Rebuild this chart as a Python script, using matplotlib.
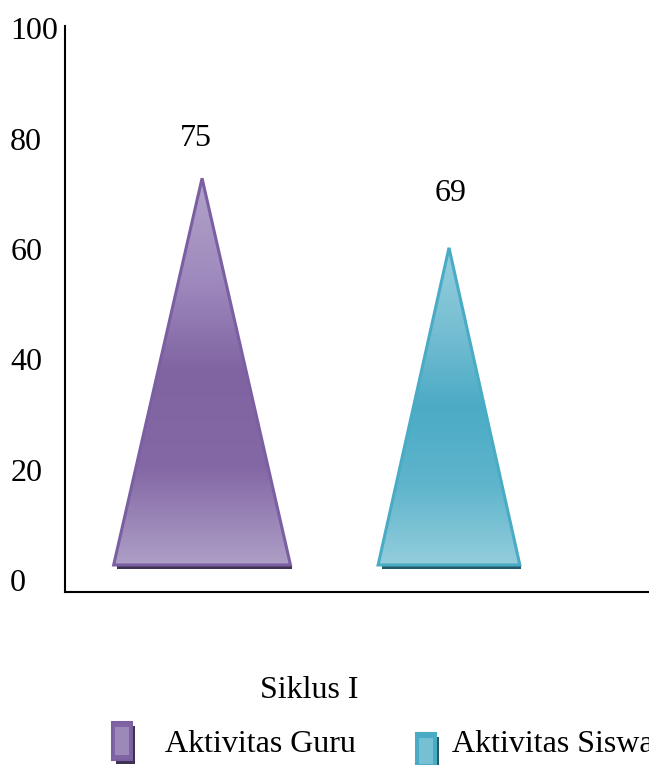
import matplotlib.pyplot as plt
import numpy as np
from matplotlib.patches import Polygon, Rectangle
from matplotlib.colors import LinearSegmentedColormap

plt.rc('font', family='Liberation Serif', size=23)

# data
categories = ['Aktivitas Guru', 'Aktivitas Siswa']
values = [75, 69]              # printed labels
drawn_height = [72.8, 60.2]    # apex height as drawn (perspective cone)
group = 'Siklus I'

# style
half_w = [0.358, 0.287]
base = 2.7
lbl_off = [40, 54]
edge = ['#7c5fa3', '#4aabc5']
shadow = ['#3f3151', '#215a69']
grad = [['#b1a3c9', '#a08bbe', '#8064a2', '#8468a6', '#ad9fc6'],
        ['#93cfde', '#78bfd3', '#4babc6', '#5fb5cc', '#93cddc']]

fig = plt.figure(figsize=(6.49, 7.65), dpi=100)
ax = fig.add_axes([65 / 649, 173 / 765, 584 / 649, 577 / 765])

for i, (h, v) in enumerate(zip(drawn_height, values)):
    hw = half_w[i]
    tri = Polygon([(i - hw, base), (i + hw, base), (i, h)], closed=True,
                  facecolor='none', edgecolor=edge[i], lw=2.2, zorder=3)
    ax.add_patch(tri)
    cmap = LinearSegmentedColormap.from_list('g%d' % i, grad[i])
    img = ax.imshow(np.linspace(0, 1, 256).reshape(-1, 1), cmap=cmap,
                    extent=(i - hw, i + hw, base, h), origin='upper',
                    aspect='auto', zorder=2)
    img.set_clip_path(tri)
    ax.add_patch(Rectangle((i - hw + 0.015, base - 0.75), 2 * hw - 0.01, 0.75,
                           facecolor=shadow[i], edgecolor='none', zorder=1))
    ax.annotate(str(v), (i, h), xytext=(-6 if i == 0 else 2, lbl_off[i]),
                textcoords='offset pixels', ha='center', va='center')

ax.set_xlim(-0.555, 1.81)
ax.set_ylim(-2.2, 102.4)
ax.set_yticks(np.arange(0, 101, 20))
ax.set_xticks([])
ax.tick_params(axis='y', length=0, pad=39.5)
for t in ax.get_yticklabels():
    t.set_horizontalalignment('left')
for s in ['top', 'right']:
    ax.spines[s].set_visible(False)
ax.spines['left'].set_linewidth(1.5)
ax.spines['bottom'].set_linewidth(1.5)
ax.spines['left'].set_bounds(-2.2, 100.4)

# group label and legend
fig.text(309 / 649, 1 - 690 / 765, group, ha='center', va='center')
leg_x = [112, 416]
leg_y = [722, 733]
leg_h = [38, 36]
txt_x = [165, 452]
for i, name in enumerate(categories):
    x0, y0, hh = leg_x[i], leg_y[i], leg_h[i]
    fig.patches.append(Rectangle(((x0 + 4) / 649, 1 - (y0 + hh + 4) / 765), 19 / 649, hh / 765,
                                 transform=fig.transFigure, facecolor=shadow[i], edgecolor='none'))
    fig.patches.append(Rectangle((x0 / 649, 1 - (y0 + hh) / 765), 20 / 649, hh / 765,
                                 transform=fig.transFigure, facecolor=grad[i][2],
                                 edgecolor=edge[i], lw=1.5))
    fig.patches.append(Rectangle(((x0 + 3) / 649, 1 - (y0 + hh - 5) / 765), 14 / 649, (hh - 10) / 765,
                                 transform=fig.transFigure, facecolor=grad[i][0],
                                 edgecolor='none', alpha=0.6))
    fig.text(txt_x[i] / 649, 1 - 745 / 765, name, ha='left', va='center')

plt.savefig('out.png', dpi=100)
